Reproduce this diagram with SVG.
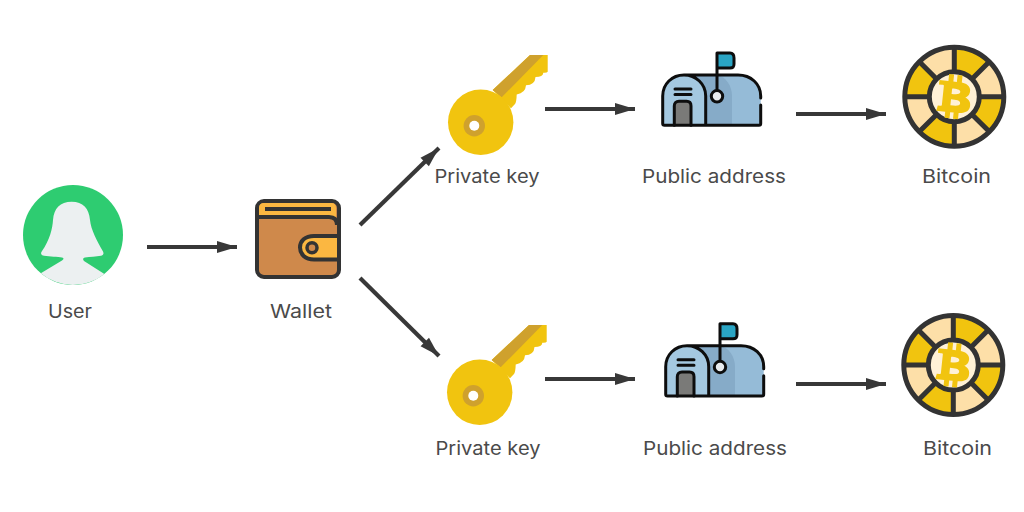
<svg xmlns="http://www.w3.org/2000/svg" width="1024" height="512" viewBox="0 0 1024 512">
<style>
text{font-family:"Inter","Liberation Sans",sans-serif;font-size:18.5px;fill:#4a4a4a;text-anchor:middle}
.cn{fill:none;stroke:#383838;stroke-width:4.2;marker-end:url(#ah)}
.mb{stroke:#0d0d0d;stroke-width:3;fill:none;stroke-linecap:round;stroke-linejoin:round}
.cs{stroke:#333;stroke-width:5;fill:none}
.y{fill:#f1c40f}.l{fill:#fddfa8}
</style>
<defs>
<marker id="ah" markerUnits="userSpaceOnUse" markerWidth="22" markerHeight="14" refX="20" refY="6" orient="auto" overflow="visible"><path d="M0,0L20,6L0,12Z" fill="#383838"/></marker>
<symbol id="key" overflow="visible" viewBox="0 0 130 150" width="130" height="150">
<path d="M62.7,50L100,15H117.7V31.7Q117,33 113.3,32.7Q113,37 105.5,37Q105,45 96,45.3Q95.5,53 86.7,54.5Q86.5,62 85,64L81,68.3Z" class="y"/>
<path d="M62.7,50L100,15H113.3L71.7,57.3Z" fill="#cfa12d"/>
<circle cx="50.7" cy="82.3" r="32.7" class="y"/>
<circle cx="44.3" cy="85.7" r="10.7" fill="#cfa12d"/>
<circle cx="44.3" cy="85.7" r="5" fill="#fff"/>
</symbol>
<symbol id="box" overflow="visible" viewBox="0 0 150 150" width="150" height="150">
<path d="M44,35H98C111,35 120.7,44 120.7,56V85.3H44Z" fill="#95bbd7"/>
<path d="M44,35H76C86,36 92,46 92,56V85.3H60Z" fill="#86abc8"/>
<path d="M22.7,85.3V56C22.7,44 32,35 44,35C56,35 65.7,44 65.7,56V85.3Z" fill="#a4c8e0"/>
<path d="M34.3,85.3V66C34.3,63 36,61.3 39,61.3H46.5C49.5,61.3 51,63 51,66V85.3Z" fill="#7a7a78"/>
<path d="M94,14H77V28H90C93,28 94,26 94,24V18C94,16 93,14 90,14Z" fill="#2aa5c4"/>
<path class="mb" d="M44,35H98C111,35 120.7,44 120.7,56V58M120.7,65V83.5Q120.7,85.3 119,85.3H24.5Q22.7,85.3 22.7,83.5V56C22.7,44 32,35 44,35C56,35 65.7,44 65.7,56V85.3"/>
<path class="mb" d="M34.3,85.3V66C34.3,63 36,61.3 39,61.3H46.5C49.5,61.3 51,63 51,66V85.3M35,49H51M35,54.5H51"/>
<path class="mb" d="M77,50.5V13H90C93,13 94,15 94,18V24C94,27 93,28 90,28H77"/>
<circle class="mb" cx="77" cy="56.3" r="5.7" style="fill:#e8ebee"/>
</symbol>
<symbol id="coin" overflow="visible" viewBox="-52 -52 104 104" width="104" height="104">
<circle r="50" class="l"/>
<path class="y" d="M0,-50A50,50 0 0 1 35.4,-35.4L0,0ZM50,0A50,50 0 0 1 35.4,35.4L0,0ZM0,50A50,50 0 0 1 -35.4,35.4L0,0ZM-50,0A50,50 0 0 1 -35.4,-35.4L0,0Z"/>
<path class="cs" d="M0,-50V-25M0,25V50M-50,0H-25M25,0H50M-35.4,-35.4L-17.7,-17.7M35.4,-35.4L17.7,-17.7M-35.4,35.4L-17.7,17.7M35.4,35.4L17.7,17.7"/>
<circle r="49.5" class="cs"/>
<circle r="25" fill="#fff1d6" stroke="#333" stroke-width="5"/>
<path class="y" fill-rule="evenodd" transform="rotate(6)" d="M-16.5,-15H-7.5V-22H-2.5V-15H1V-22H6V-14.8C13,-14 16,-10 15,-5.5C14.5,-2.5 12.5,-1 11,-0.3C15,1 17.5,4.5 16.5,9.5C15.5,14 11,15.5 6,15.8V22H1V15.8H-2.5V22H-7.5V15.8H-16.5L-15.5,10.5H-13C-11.8,10.5 -11.5,10 -11.5,9.5V-9.5C-11.5,-10.5 -12,-10.5 -13.5,-10.5H-16.5ZM-3,-8V-2.5C1,-2.5 5.5,-2.5 5.5,-5.3C5.5,-8 1,-8 -3,-8ZM-3,3V9C2,9 6.5,9 6.5,6C6.5,3 2,3 -3,3Z"/>
</symbol>
</defs>
<g id="connectors">
<path class="cn" d="M147,247H237"/>
<path class="cn" d="M360,225L439,148"/>
<path class="cn" d="M360,278L439,356"/>
<path class="cn" d="M545,109H635"/>
<path class="cn" d="M796,114H886"/>
<path class="cn" d="M545,379H635"/>
<path class="cn" d="M796,384H886"/>
</g>
<g id="user">
<circle cx="73" cy="235" r="50" fill="#2ecc71"/>
<path fill="#ecf0f1" d="M71.7,201.7C60,201.7 54,208 53,220C52.5,228 50,240 41.7,251.5C40,254 42,255.5 44,255.8C50,256.5 58,257 62,257.5C64,258 64,259.5 62,260.5L40.8,273.2A50,50 0 0 0 104.4,273.9L84,261C82.5,259.5 83,258 85,257.6C90,257 96,256.5 101,255.8C103.5,255.3 104,253.5 103,251.5C97,241 91,230 90,220C89,208 83,201.7 71.7,201.7Z"/>
<text x="70" y="318" textLength="44" lengthAdjust="spacingAndGlyphs">User</text>
</g>
<g id="wallet">
<rect x="257" y="201" width="82" height="76" rx="7" fill="#cf894b" stroke="#333" stroke-width="4"/>
<path d="M259,217V208Q259,203 264,203H331Q336,203 336,208V216Q336,218 333,216.5Q331,216 328,216H259Z" fill="#fbb741"/>
<path d="M257,217H329Q337,217 337,225" fill="none" stroke="#333" stroke-width="4"/>
<path d="M265,209H331" stroke="#333" stroke-width="4" fill="none"/>
<path d="M339,236H314C305,236 300,241 300,247.5C300,254 305,259.5 314,259.5H339Z" fill="#fbb741" stroke="#333" stroke-width="4"/>
<circle cx="312" cy="247.7" r="5" fill="#cf894b" stroke="#333" stroke-width="3.5"/>
<text x="301" y="318" textLength="62" lengthAdjust="spacingAndGlyphs">Wallet</text>
</g>
<g id="key1"><use href="#key" x="430" y="40"/><text x="487" y="183" textLength="105" lengthAdjust="spacingAndGlyphs">Private key</text></g>
<g id="address1"><use href="#box" x="640" y="40"/><text x="714" y="183" textLength="144" lengthAdjust="spacingAndGlyphs">Public address</text></g>
<g id="bitcoin1"><use href="#coin" x="902.3" y="44.7"/><text x="956.5" y="183" textLength="69" lengthAdjust="spacingAndGlyphs">Bitcoin</text></g>
<g id="key2"><use href="#key" x="429" y="310"/><text x="488" y="455" textLength="105" lengthAdjust="spacingAndGlyphs">Private key</text></g>
<g id="address2"><use href="#box" x="643" y="310.7"/><text x="715" y="455" textLength="144" lengthAdjust="spacingAndGlyphs">Public address</text></g>
<g id="bitcoin2"><use href="#coin" x="901.3" y="313"/><text x="957.5" y="455" textLength="69" lengthAdjust="spacingAndGlyphs">Bitcoin</text></g>
</svg>
